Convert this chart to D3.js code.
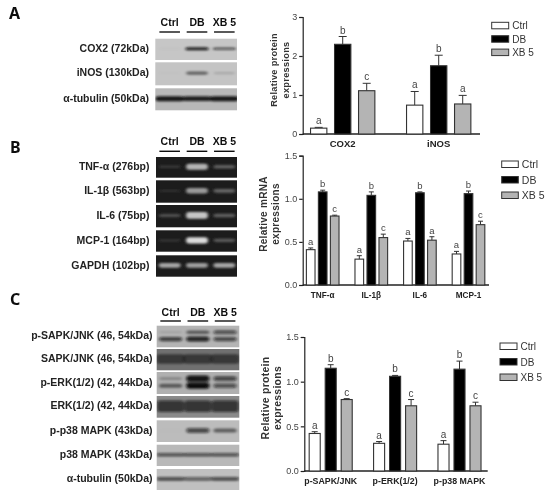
<!DOCTYPE html>
<html><head><meta charset="utf-8">
<script src="https://cdn.jsdelivr.net/npm/d3@7"></script>
<style>html,body{margin:0;padding:0;background:#fff}svg{display:block}text{font-family:"Liberation Sans",Arial,sans-serif}</style>
</head><body><svg id="c" width="550" height="496"></svg>
<script>
const series = ["Ctrl","DB","XB 5"];

const catsA = ["COX2","iNOS"];
const valsA = [[0.15,2.30,1.11],[0.74,1.75,0.77]];
const errsA = [[0.17,2.50,1.30],[1.09,2.02,0.99]];
const sigA  = [["a","b","c"],["a","b","a"]];
const ticksA = [0,1,2,3];

const catsB = ["TNF-α","IL-1β","IL-6","MCP-1"];
const valsB = [[0.41,1.08,0.80],[0.30,1.04,0.55],[0.51,1.07,0.52],[0.36,1.06,0.70]];
const errsB = [[0.43,1.10,0.81],[0.34,1.08,0.59],[0.54,1.08,0.56],[0.39,1.09,0.74]];
const sigB  = [["a","b","c"],["a","b","c"],["a","b","a"],["a","b","c"]];

const catsC = ["p-SAPK/JNK","p-ERK(1/2)","p-p38 MAPK"];
const valsC = [[0.42,1.15,0.80],[0.31,1.06,0.73],[0.30,1.14,0.73]];
const errsC = [[0.44,1.19,0.81],[0.33,1.07,0.80],[0.34,1.23,0.77]];
const sigC  = [["a","b","c"],["a","b","c"],["a","b","c"]];
const ticksBC = [0,0.5,1,1.5];

// Blot labels and estimated band intensity per lane, one inner list per band row
const blotLabelsA = ["COX2 (72kDa)","iNOS (130kDa)","α-tubulin (50kDa)"];
const blotBandsA = [[[0.03,0.9,0.6]],[[0.02,0.5,0.15]],[[0.95,0.9,0.95]]];
const blotLabelsB = ["TNF-α (276bp)","IL-1β (563bp)","IL-6 (75bp)","MCP-1 (164bp)","GAPDH (102bp)"];
const blotBandsB = [[[0.14,0.72,0.32]],[[0.1,0.6,0.35]],[[0.25,0.8,0.32]],[[0.14,0.9,0.3]],[[0.65,0.62,0.65]]];
const blotLabelsC = ["p-SAPK/JNK (46, 54kDa)","SAPK/JNK (46, 54kDa)","p-ERK(1/2) (42, 44kDa)","ERK(1/2) (42, 44kDa)","p-p38 MAPK (43kDa)","p38 MAPK (43kDa)","α-tubulin (50kDa)"];
const blotBandsC = [[[0.12,0.5,0.6],[0.7,0.85,0.65]],[[0.5,0.5,0.5]],[[0.25,0.95,0.65],[0.5,1,0.6]],[[0.7,0.7,0.7]],[[0.02,0.65,0.5]],[[0.6,0.6,0.6]],[[0.65,0.55,0.65]]];

const svg = d3.select("#c");
const defs = svg.append("defs");
defs.append("filter").attr("id","blur").attr("x","-20%").attr("y","-100%").attr("width","140%").attr("height","300%")
    .append("feGaussianBlur").attr("stdDeviation","1.5 0.8");
defs.append("filter").attr("id","soft").append("feGaussianBlur").attr("stdDeviation","0.35");
const root = svg.append("g").attr("filter","url(#soft)");
const ink = "#222";
const fills = d3.scaleOrdinal().domain(series).range(["#ffffff","#000000","#b4b4b4"]);

function bars(cfg){
  const g = root.append("g");
  const y = d3.scaleLinear().domain(cfg.domain).range([cfg.y0,cfg.y1]);
  const x0 = d3.scaleBand().domain(cfg.cats).range(cfg.groupRange);
  const x1 = d3.scaleBand().domain(series).range([x0.bandwidth()/2-cfg.barStep*1.5,x0.bandwidth()/2+cfg.barStep*1.5]).paddingInner(cfg.barPad).paddingOuter(cfg.barPad/2);
  const yAxis = d3.axisLeft(y).tickValues(cfg.ticks).tickSize(3.5).tickPadding(2).tickFormat(cfg.fmt);
  const ax = g.append("g").attr("transform",`translate(${cfg.axisX},0)`).call(yAxis);
  ax.selectAll("path,line").attr("stroke",ink).attr("stroke-width",1.2);
  ax.selectAll("text").attr("font-size",9).attr("fill","#444");
  g.append("line").attr("x1",cfg.axisX).attr("x2",cfg.xEnd).attr("y1",cfg.y0).attr("y2",cfg.y0).attr("stroke",ink).attr("stroke-width",1.3);
  cfg.cats.forEach((c,i)=>{
    const gg = g.append("g").attr("transform",`translate(${x0(c)},0)`);
    series.forEach((s,j)=>{
      const bx = x1(s), w = x1.bandwidth(), cx = bx+w/2;
      gg.append("line").attr("x1",cx).attr("x2",cx).attr("y1",y(cfg.vals[i][j])).attr("y2",y(cfg.errs[i][j])).attr("stroke","#333").attr("stroke-width",1);
      gg.append("line").attr("x1",cx-cfg.cap).attr("x2",cx+cfg.cap).attr("y1",y(cfg.errs[i][j])).attr("y2",y(cfg.errs[i][j])).attr("stroke","#333").attr("stroke-width",1);
      gg.append("rect").attr("x",bx).attr("width",w).attr("y",y(cfg.vals[i][j])).attr("height",cfg.y0-y(cfg.vals[i][j]))
        .attr("fill",fills(s)).attr("stroke","#333").attr("stroke-width",1.1);
      gg.append("text").attr("x",cx).attr("y",y(cfg.errs[i][j])-3).attr("text-anchor","middle").attr("font-size",cfg.sigSize).attr("fill","#444").text(cfg.sig[i][j]);
    });
    gg.append("text").attr("x",x0.bandwidth()/2).attr("y",cfg.catY).attr("text-anchor","middle").attr("font-size",cfg.catSize).attr("font-weight","bold").attr("fill",ink).text(c);
  });
  cfg.ylab.forEach((t,i)=>{
    g.append("text").attr("transform",`translate(${cfg.ylabX[i]},${cfg.ylabY}) rotate(-90)`).attr("text-anchor","middle")
     .attr("font-size",cfg.ylabSize).attr("font-weight","bold").attr("letter-spacing",0.3).attr("fill","#333").text(t);
  });
  series.forEach((s,j)=>{
    const ly = cfg.legY+j*cfg.legStep;
    g.append("rect").attr("x",cfg.legX).attr("y",ly).attr("width",cfg.legW).attr("height",6.5).attr("fill",fills(s)).attr("stroke","#333").attr("stroke-width",1);
    g.append("text").attr("x",cfg.legX+cfg.legW+3.5).attr("y",ly+7).attr("font-size",cfg.legSize).attr("fill","#333").text(s);
  });
}

bars({cats:catsA,vals:valsA,errs:errsA,sig:sigA,domain:[0,3],ticks:ticksA,fmt:d3.format("d"),y0:134,y1:17,axisX:302.7,xEnd:480,
  groupRange:[294.7,486.7],barStep:24,barPad:0.32,cap:4,sigSize:10,catY:147,catSize:9.5,
  ylab:["Relative protein","expressions"],ylabX:[277,289],ylabY:70,ylabSize:9.2,legX:491.7,legY:22.3,legStep:13.4,legW:17,legSize:10});
bars({cats:catsB,vals:valsB,errs:errsB,sig:sigB,domain:[0,1.5],ticks:ticksBC,fmt:d3.format(".1f"),y0:285,y1:155.7,axisX:302.7,xEnd:489,
  groupRange:[298.4,492.8],barStep:12,barPad:0.28,cap:2.5,sigSize:9.5,catY:297.5,catSize:8.2,
  ylab:["Relative mRNA","expressions"],ylabX:[267,279],ylabY:214,ylabSize:10,legX:501.7,legY:161,legStep:15.5,legW:16.6,legSize:10.5});
bars({cats:catsC,vals:valsC,errs:errsC,sig:sigC,domain:[0,1.5],ticks:ticksBC,fmt:d3.format(".1f"),y0:471,y1:337,axisX:304.3,xEnd:487.7,
  groupRange:[298.5,491.7],barStep:16,barPad:0.31,cap:3,sigSize:10,catY:483.5,catSize:8.8,
  ylab:["Relative protein","expressions"],ylabX:[269,281],ylabY:398,ylabSize:10.4,legX:500,legY:343,legStep:15.5,legW:17,legSize:10});

function blot(cfg){
  const g = root.append("g");
  const x = d3.scaleBand().domain(series).range(cfg.laneRange);
  series.forEach((s)=>{
    const lx = x(s)+x.bandwidth()/2;
    g.append("text").attr("x",lx).attr("y",cfg.headY).attr("text-anchor","middle").attr("font-size",10.5).attr("font-weight","bold").attr("fill","#111").text(s);
    g.append("line").attr("x1",lx-10.3).attr("x2",lx+10.3).attr("y1",cfg.ruleY).attr("y2",cfg.ruleY).attr("stroke","#111").attr("stroke-width",1.4);
  });
  cfg.labels.forEach((name,i)=>{
    const [top,bot] = cfg.panelY[i];
    const lanes = cfg.bands[i];
    const thick = cfg.thick[i], wide = cfg.wide[i];
    const clip = `clip${cfg.id}${i}`;
    defs.append("clipPath").attr("id",clip).append("rect").attr("x",cfg.px[0]).attr("y",top).attr("width",cfg.px[1]-cfg.px[0]).attr("height",bot-top);
    g.append("rect").attr("x",cfg.px[0]).attr("y",top).attr("width",cfg.px[1]-cfg.px[0]).attr("height",bot-top).attr("fill",cfg.bg[i]);
    const b = g.append("g").attr("clip-path",`url(#${clip})`).append("g").attr("filter","url(#blur)");
    lanes.forEach((row,k)=>{
      const rowY = top+(bot-top)*(lanes.length===1?0.47:(k===0?0.3:0.62));
      series.forEach((s,j)=>{
        const v = row[j];
        b.append("rect").attr("x",x(s)+x.bandwidth()*(1-wide)/2).attr("width",x.bandwidth()*wide)
         .attr("y",rowY-(thick*v+0.8)).attr("height",2*(thick*v+0.8)).attr("rx",3)
         .attr("fill",cfg.bandColor).attr("opacity",Math.min(1,v));
      });
    });
    g.append("text").attr("x",cfg.labelX).attr("y",(top+bot)/2+2.5).attr("text-anchor","end").attr("font-size",10.5).attr("font-weight","bold").attr("fill","#222").text(name);
  });
  g.append("text").attr("x",cfg.letterX).attr("y",cfg.letterY).attr("font-size",16).attr("font-weight","bold").attr("fill","#111").attr("style",'font-family:"Noto Sans"').text(cfg.letter);
}

blot({id:"a",letter:"A",letterX:9,letterY:18.5,labels:blotLabelsA,bands:blotBandsA,bandColor:"#0c0c0c",bg:["#c6c6c6","#c4c4c4","#b8b8b8"],
  thick:[0.8,1.6,1.8],wide:[0.85,0.8,1.05],laneRange:[156,238],px:[155.3,237],headY:26,ruleY:32,labelX:149,
  panelY:[[38.7,60],[62.3,85.3],[88.3,110.3]]});
blot({id:"b",letter:"B",letterX:10,letterY:153,labels:blotLabelsB,bands:blotBandsB,bandColor:"#efefef",bg:["#1c1c1c","#1c1c1c","#1c1c1c","#1c1c1c","#1c1c1c"],
  thick:[3.2,3.2,3.2,2.6,2.4],wide:[0.8,0.8,0.8,0.8,0.8],laneRange:[156,238],px:[156,237],headY:145,ruleY:151.3,labelX:149.5,
  panelY:[[157,177.7],[180.3,202.7],[205,227.3],[230.3,251.7],[255.3,276.7]]});
blot({id:"c",letter:"C",letterX:10,letterY:305,labels:blotLabelsC,bands:blotBandsC,bandColor:"#0c0c0c",bg:["#b4b4b4","#707070","#b0b0b0","#8a8a8a","#bcbcbc","#b8b8b8","#c0c0c0"],
  thick:[2,8,2.4,7,2.6,1.6,1.8],wide:[0.85,1.05,0.85,1.0,0.85,1.05,1.05],laneRange:[157,238.7],px:[156.7,239.3],headY:316,ruleY:321,labelX:152.5,
  panelY:[[325.7,347.3],[349,370.3],[372,394],[396,417.7],[420.3,442],[444.7,466],[469,490]]});
</script></body></html>
